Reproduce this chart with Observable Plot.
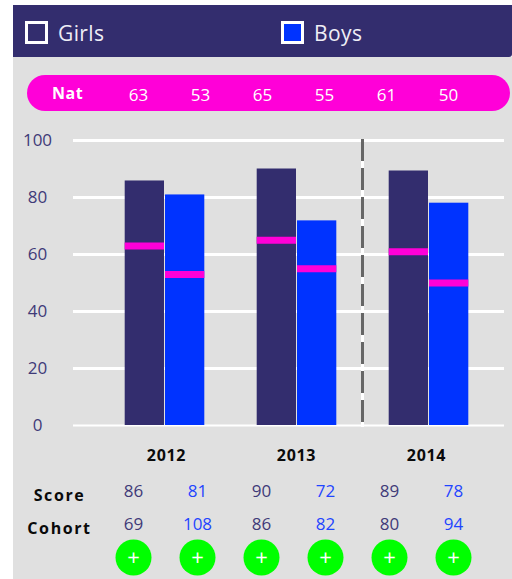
<!DOCTYPE html>
<html><head><meta charset="utf-8">
<script src="https://cdn.jsdelivr.net/npm/d3@7"></script>
<script src="https://cdn.jsdelivr.net/npm/@observablehq/plot@0.6"></script>
<style>
html,body{margin:0;padding:0;background:#fff;font-family:"Open Sans",sans-serif;}
#page{position:relative;width:512px;height:579px;overflow:hidden;}
#bg{position:absolute;left:13px;top:57px;width:499px;height:522px;background:#e0e0e0;}
#head{position:absolute;left:13px;top:5px;width:499px;height:52px;background:#332d6e;border-bottom-right-radius:3px;}
.key{position:absolute;top:21px;width:23px;height:23px;box-sizing:border-box;border:3px solid #fff;}
.keyt{position:absolute;top:17px;color:#eeeef6;font-size:21px;line-height:32px;letter-spacing:.4px;}
#pill{position:absolute;left:27px;top:75px;width:483px;height:36px;border-radius:18px;background:#ff00d8;}
#nat{position:absolute;left:52px;top:82px;color:#fff;font-weight:700;font-size:16px;line-height:22px;letter-spacing:.5px;}
#page svg{position:absolute;left:0;}
</style></head>
<body><div id="page">
<div id="bg"></div>
<div id="head"></div>
<div class="key" style="left:25px;background:#332d6e"></div><div class="keyt" style="left:58px">Girls</div>
<div class="key" style="left:281px;background:#0033ff"></div><div class="keyt" style="left:314px">Boys</div>
<div id="pill"></div><div id="nat">Nat</div>
</div>
<script>
const years = ["2012","2013","2014"];
const groups = ["Girls","Boys"];
const girlsScore = [85.8,90,89.3];
const boysScore = [80.9,71.8,78];
const girlsNat = [63,65,61];
const boysNat = [53,55,50];
const girlsCohort = [69,86,80];
const boysCohort = [108,82,94];
const yTicks = [0,20,40,60,80,100];
const rowNames = ["Score","Cohort"];

const navy="#332d6e", blue="#0033ff", magenta="#ff00d8", green="#00ff00";
const font='"Open Sans",sans-serif';
const page=document.getElementById("page");
const place=(svg,top)=>{svg.style.top=top+"px";page.appendChild(svg);};
const spaced=px=>(i,s,v,d,c,next)=>{const g=next(i,s,v,d,c);g.style.letterSpacing=px+"px";return g;};

const bars=years.flatMap((year,i)=>[
  {year,group:"Girls",score:girlsScore[i],nat:girlsNat[i],cohort:girlsCohort[i]},
  {year,group:"Boys",score:boysScore[i],nat:boysNat[i],cohort:boysCohort[i]}
]);
const cols=bars.map((d,i)=>({...d,col:String(i)}));
const colDomain=cols.map(d=>d.col);

// grid and y axis
place(Plot.plot({
  width:512,height:320,marginTop:20,marginBottom:15,marginLeft:73,marginRight:8,
  style:{background:"transparent",fontFamily:font,overflow:"visible"},
  y:{domain:[0,100],axis:null,label:null},
  marks:[
    Plot.ruleY(yTicks.filter(d=>d>0),{y:d=>d,stroke:"#fff",strokeWidth:3}),
    Plot.ruleY([0],{stroke:"#fff",strokeWidth:2}),
    Plot.axisY({ticks:yTicks,tickSize:0,tickPadding:0,textAnchor:"middle",dx:-36,fontSize:17,fill:"#3f3a78",label:null})
  ]
}),120);

// bars, national markers and the dashed divider
place(Plot.plot({
  width:512,height:320,marginTop:20,marginBottom:15,marginLeft:73,marginRight:8,
  style:{background:"transparent",fontFamily:font,overflow:"visible"},
  fx:{domain:years,range:[98.5,494.5],paddingInner:0,paddingOuter:0,round:false,axis:null,label:null},
  x:{domain:groups,paddingInner:0.025,paddingOuter:0.65,round:false,axis:null,label:null},
  y:{domain:[0,100],axis:null,label:null},
  marks:[
    Plot.frame({anchor:"left",fx:()=>"2014",stroke:"#fff",strokeWidth:3,dx:-0.5}),
    Plot.frame({anchor:"left",fx:()=>"2014",stroke:"#666",strokeWidth:3,strokeDasharray:"19 10",dx:-0.5}),
    Plot.barY(bars,{fx:"year",x:"group",y:"score",fill:d=>d.group==="Girls"?navy:blue}),
    Plot.tickY(bars,{fx:"year",x:"group",y:"nat",stroke:magenta,strokeWidth:7})
  ]
}),120);

// national row inside the pill
place(Plot.plot({
  width:512,height:36,margin:0,
  style:{background:"transparent",fontFamily:font},
  x:{type:"point",domain:colDomain,range:[138,448],padding:0,round:false,axis:null},
  marks:[Plot.text(cols,{x:"col",frameAnchor:"middle",text:d=>String(d.nat),fill:"#fff",fontSize:17,dy:2.5})]
}),75);

// year labels
place(Plot.plot({
  width:512,height:30,margin:0,
  style:{background:"transparent",fontFamily:font},
  x:{type:"point",domain:years,range:[166,426],padding:0,round:false,axis:null},
  marks:[Plot.text(years,{x:d=>d,frameAnchor:"middle",text:d=>d,fill:"#0a0a0a",fontSize:16,fontWeight:700,render:spaced(0.7)})]
}),440);

// table and buttons
place(Plot.plot({
  width:512,height:104,margin:0,
  style:{background:"transparent",fontFamily:font},
  x:{type:"point",domain:colDomain,range:[133,453],padding:0,round:false,axis:null},
  y:{type:"point",domain:["Score","Cohort","more"],range:[16,82],padding:0,round:false,axis:null},
  marks:[
    Plot.text(rowNames,{y:d=>d,frameAnchor:"left",dx:59,dy:4.5,textAnchor:"middle",text:d=>d,fill:"#0a0a0a",fontSize:16,fontWeight:700,render:spaced(1.6)}),
    Plot.text(cols,{x:"col",y:()=>"Score",text:d=>String(Math.round(d.score)),fill:d=>d.group==="Girls"?"#3f3a78":"#1f45ff",fontSize:17}),
    Plot.text(cols,{x:"col",y:()=>"Cohort",text:d=>String(d.cohort),fill:d=>d.group==="Girls"?"#3f3a78":"#1f45ff",fontSize:17,dy:0.5}),
    Plot.dot(cols,{x:"col",y:()=>"more",r:18,fill:green}),
    Plot.text(cols,{x:"col",y:()=>"more",text:()=>"+",fill:"#fff",fontSize:22})
  ]
}),475);
</script>
</body></html>
